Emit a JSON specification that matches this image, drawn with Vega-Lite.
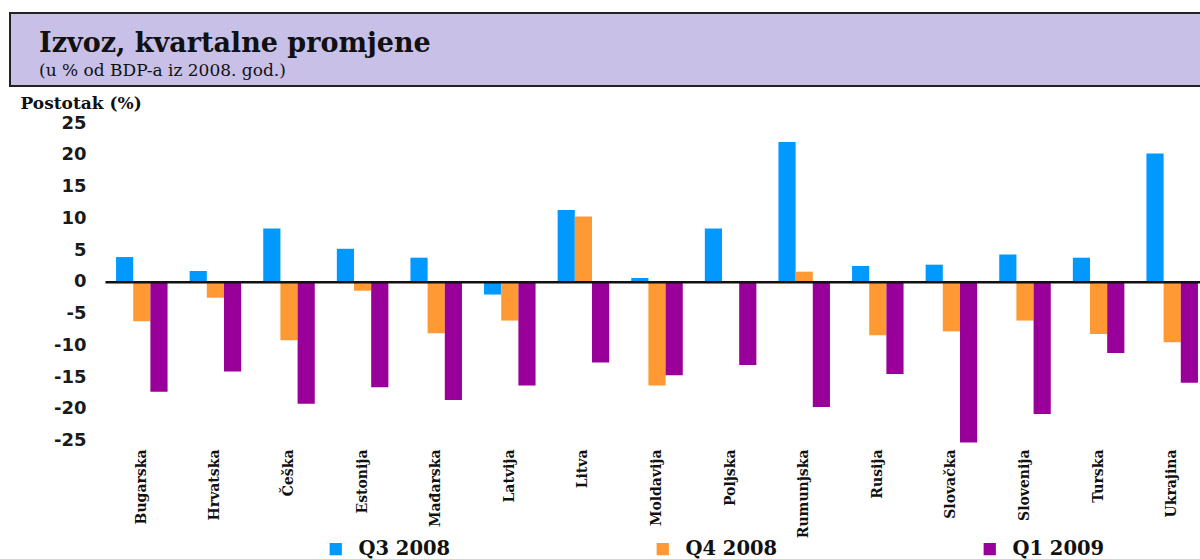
{
  "$schema": "https://vega.github.io/schema/vega-lite/v6.json",
  "background": "white",
  "padding": {"left": 9, "top": 12, "right": 0, "bottom": 0},
  "spacing": 7,
  "config": {"view": {"stroke": null}, "axisY": {"labelOverlap": false}},
  "datasets": {
    "exports": [
      {"country": "Bugarska", "q": "Q3 2008", "v": 3.9},
      {"country": "Bugarska", "q": "Q4 2008", "v": -6.2},
      {"country": "Bugarska", "q": "Q1 2009", "v": -17.3},
      {"country": "Hrvatska", "q": "Q3 2008", "v": 1.7},
      {"country": "Hrvatska", "q": "Q4 2008", "v": -2.5},
      {"country": "Hrvatska", "q": "Q1 2009", "v": -14.1},
      {"country": "Češka", "q": "Q3 2008", "v": 8.4},
      {"country": "Češka", "q": "Q4 2008", "v": -9.2},
      {"country": "Češka", "q": "Q1 2009", "v": -19.2},
      {"country": "Estonija", "q": "Q3 2008", "v": 5.2},
      {"country": "Estonija", "q": "Q4 2008", "v": -1.4},
      {"country": "Estonija", "q": "Q1 2009", "v": -16.6},
      {"country": "Mađarska", "q": "Q3 2008", "v": 3.8},
      {"country": "Mađarska", "q": "Q4 2008", "v": -8.1},
      {"country": "Mađarska", "q": "Q1 2009", "v": -18.6},
      {"country": "Latvija", "q": "Q3 2008", "v": -2.0},
      {"country": "Latvija", "q": "Q4 2008", "v": -6.1},
      {"country": "Latvija", "q": "Q1 2009", "v": -16.3},
      {"country": "Litva", "q": "Q3 2008", "v": 11.3},
      {"country": "Litva", "q": "Q4 2008", "v": 10.3},
      {"country": "Litva", "q": "Q1 2009", "v": -12.7},
      {"country": "Moldavija", "q": "Q3 2008", "v": 0.6},
      {"country": "Moldavija", "q": "Q4 2008", "v": -16.3},
      {"country": "Moldavija", "q": "Q1 2009", "v": -14.7},
      {"country": "Poljska", "q": "Q3 2008", "v": 8.4},
      {"country": "Poljska", "q": "Q4 2008", "v": 0.0},
      {"country": "Poljska", "q": "Q1 2009", "v": -13.1},
      {"country": "Rumunjska", "q": "Q3 2008", "v": 22.0},
      {"country": "Rumunjska", "q": "Q4 2008", "v": 1.6},
      {"country": "Rumunjska", "q": "Q1 2009", "v": -19.7},
      {"country": "Rusija", "q": "Q3 2008", "v": 2.5},
      {"country": "Rusija", "q": "Q4 2008", "v": -8.4},
      {"country": "Rusija", "q": "Q1 2009", "v": -14.5},
      {"country": "Slovačka", "q": "Q3 2008", "v": 2.7},
      {"country": "Slovačka", "q": "Q4 2008", "v": -7.8},
      {"country": "Slovačka", "q": "Q1 2009", "v": -25.3},
      {"country": "Slovenija", "q": "Q3 2008", "v": 4.3},
      {"country": "Slovenija", "q": "Q4 2008", "v": -6.1},
      {"country": "Slovenija", "q": "Q1 2009", "v": -20.8},
      {"country": "Turska", "q": "Q3 2008", "v": 3.8},
      {"country": "Turska", "q": "Q4 2008", "v": -8.2},
      {"country": "Turska", "q": "Q1 2009", "v": -11.2},
      {"country": "Ukrajina", "q": "Q3 2008", "v": 20.2},
      {"country": "Ukrajina", "q": "Q4 2008", "v": -9.5},
      {"country": "Ukrajina", "q": "Q1 2009", "v": -15.9}
    ]
  },
  "vconcat": [
    {
      "width": 1200,
      "height": 73,
      "data": {"values": [{"a": 1}]},
      "view": {"fill": "#c8c0e6", "stroke": "#222222", "strokeWidth": 2},
      "title": {
        "text": "Izvoz, kvartalne promjene",
        "subtitle": "(u % od BDP-a iz 2008. god.)",
        "anchor": "start",
        "frame": "group",
        "orient": "top",
        "offset": -67,
        "dx": 29,
        "font": "DejaVu Serif",
        "fontSize": 27,
        "fontWeight": "bold",
        "color": "#111111",
        "subtitleFont": "DejaVu Serif",
        "subtitleFontSize": 17,
        "subtitleColor": "#111111",
        "subtitlePadding": 5
      },
      "mark": {"type": "point", "opacity": 0}
    },
    {
      "width": 1200,
      "height": 324,
      "data": {"name": "exports"},
      "resolve": {"axis": {"x": "independent"}},
      "layer": [
        {
          "mark": {"type": "bar"},
          "encoding": {
            "x": {
              "field": "country",
              "type": "nominal",
              "sort": null,
              "scale": {"range": [95, 1199], "paddingInner": 0.3, "paddingOuter": 0.15},
              "axis": {
                "title": null,
                "labelAngle": 270,
                "labelFont": "DejaVu Serif",
                "labelFontWeight": "bold",
                "labelFontSize": 14,
                "labelColor": "#111111",
                "labelPadding": 2,
                "ticks": false,
                "domain": false
              }
            },
            "xOffset": {
              "field": "q",
              "type": "nominal",
              "sort": ["Q3 2008", "Q4 2008", "Q1 2009"]
            },
            "y": {
              "field": "v",
              "type": "quantitative",
              "scale": {"domain": [-26, 25], "nice": false, "zero": false},
              "axis": {
                "title": "Postotak (%)",
                "offset": -95,
                "titleAngle": 0,
                "titleAlign": "left",
                "titleBaseline": "alphabetic",
                "titleX": -85,
                "titleY": -15,
                "titleFont": "DejaVu Serif",
                "titleFontWeight": "bold",
                "titleFontSize": 17,
                "titleColor": "#111111",
                "values": [-25, -20, -15, -10, -5, 0, 5, 10, 15, 20, 25],
                "labelExpr": "datum.value + ''",
                "labelOverlap": false,
                "labelFont": "DejaVu Sans",
                "labelFontWeight": "bold",
                "labelFontSize": 18,
                "labelColor": "#1a1a1a",
                "labelPadding": 19,
                "ticks": false,
                "domain": false,
                "grid": false
              }
            },
            "color": {
              "field": "q",
              "type": "nominal",
              "scale": {
                "domain": ["Q3 2008", "Q4 2008", "Q1 2009"],
                "range": ["#0099ff", "#ff9933", "#990099"]
              },
              "legend": {
                "title": null,
                "orient": "none",
                "legendX": 316,
                "legendY": 526,
                "direction": "horizontal",
                "columns": 3,
                "columnPadding": 202,
                "symbolType": "square",
                "symbolSize": 150,
                "symbolStrokeWidth": 0,
                "labelFont": "DejaVu Serif",
                "labelFontWeight": "bold",
                "labelFontSize": 19.5,
                "labelColor": "#111111",
                "labelOffset": 13
              }
            }
          }
        },
        {
          "mark": {"type": "bar", "opacity": 0},
          "encoding": {
            "x": {
              "field": "country",
              "type": "nominal",
              "sort": null,
              "axis": {
                "orient": "top",
                "offset": -158.8,
                "title": null,
                "labels": false,
                "ticks": false,
                "grid": false,
                "domain": true,
                "domainColor": "#111111",
                "domainWidth": 2.5,
                "zindex": 2
              }
            }
          }
        }
      ]
    }
  ]
}
